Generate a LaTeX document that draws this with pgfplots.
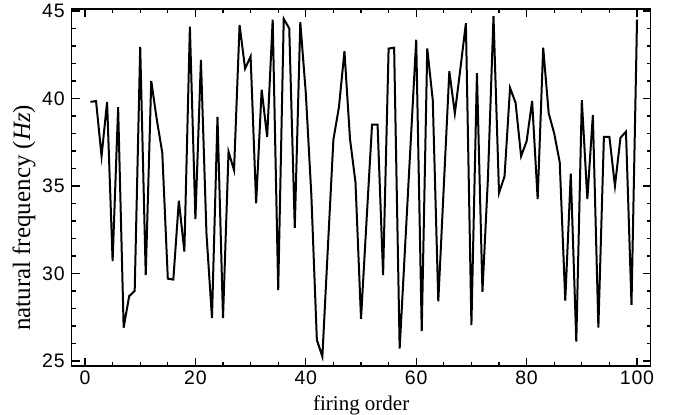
\documentclass[border=0pt]{standalone}
\usepackage{fontspec}
\setmainfont{Liberation Serif}
\newfontfamily\tickfont[LetterSpace=4]{Liberation Sans}
\usepackage{pgfplots}
\pgfplotsset{compat=1.18}
\begin{document}
\begin{tikzpicture}
\begin{axis}[
  scale only axis, width=289.5pt, height=178.5pt,
  xmin=-2.41, xmax=102.48, ymin=24.71, ymax=45.11,
  xtick={0,20,...,100}, minor x tick num=3,
  ytick={25,30,...,45}, minor y tick num=4,
  tick align=inside, major tick length=4pt, minor tick length=2pt,
  axis line style={line width=0.75pt},
  every tick/.style={black, line width=0.6pt},
  tick label style={font=\tickfont\fontsize{9.75}{10}\selectfont},
  /pgf/number format/assume math mode=true,
  yticklabel style={inner sep=0pt, xshift=-3.3pt},
  xticklabel style={inner sep=0pt, yshift=-2.3pt},
  xlabel={firing order},
  ylabel={natural frequency (\textit{Hz})},
  every axis x label/.style={at={(axis description cs:0.5,-0.126)}, anchor=base, font=\fontsize{10.5}{12}\selectfont},
  every axis y label/.style={at={(axis description cs:-0.072,0.415)}, rotate=90, anchor=base, font=\fontsize{12.5}{14}\selectfont},
]
\addplot[black, line width=1pt, mark=none] coordinates {
(1,39.8) (2,39.85) (3,36.7) (4,39.8) (5,30.7) (6,39.5) (7,26.9) (8,28.7) (9,29.0) (10,42.95)
(11,29.9) (12,41.0) (13,38.8) (14,36.9) (15,29.7) (16,29.65) (17,34.15) (18,31.25) (19,44.1) (20,33.1)
(21,42.2) (22,32.3) (23,27.45) (24,38.95) (25,27.45) (26,36.95) (27,35.9) (28,44.2) (29,41.7) (30,42.4)
(31,34.0) (32,40.5) (33,37.8) (34,44.5) (35,29.05) (36,44.55) (37,44.0) (38,32.6) (39,44.35) (40,40.3)
(41,34.5) (42,26.2) (43,25.25) (44,31.5) (45,37.65) (46,39.5) (47,42.7) (48,37.7) (49,35.2) (50,27.4)
(51,33.0) (52,38.5) (53,38.5) (54,29.9) (55,42.85) (56,42.9) (57,25.7) (58,31.6) (59,37.5) (60,43.35)
(61,26.7) (62,42.85) (63,39.9) (64,28.4) (65,35.0) (66,41.55) (67,39.15) (68,41.7) (69,44.3) (70,27.05)
(71,41.45) (72,28.95) (73,35.5) (74,44.7) (75,34.6) (76,35.55) (77,40.6) (78,39.75) (79,36.7) (80,37.55)
(81,39.85) (82,34.25) (83,42.9) (84,39.15) (85,38.0) (86,36.35) (87,28.45) (88,35.7) (89,26.1) (90,39.9)
(91,34.25) (92,39.05) (93,26.9) (94,37.8) (95,37.8) (96,35.0) (97,37.75) (98,38.1) (99,28.2) (100,44.5)
};
\end{axis}
\pgfresetboundingbox
\path[use as bounding box] (-35.85pt,-24.5pt) rectangle (303.15pt,183pt);
\end{tikzpicture}
\end{document}
